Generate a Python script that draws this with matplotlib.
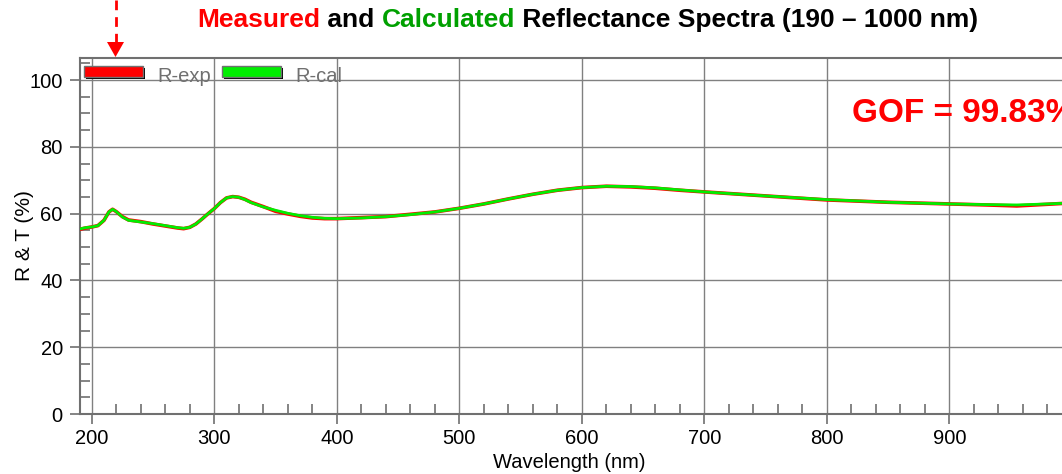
import numpy as np
import matplotlib.pyplot as plt
from matplotlib.patches import Rectangle, Polygon
from matplotlib.lines import Line2D
from matplotlib.ticker import MultipleLocator, FuncFormatter

plt.rcParams['font.family'] = ['Liberation Sans', 'DejaVu Sans']

# wavelength (nm) and reflectance (%)
wavelength = [190, 195, 200, 205, 210, 214, 217, 220, 225, 230, 240, 250, 260, 270,
              275, 280, 285, 290, 295, 300, 305, 310, 315, 320, 325, 330, 340, 350,
              360, 370, 380, 390, 400, 420, 440, 460, 480, 500, 520, 540, 560, 580,
              600, 620, 640, 660, 680, 700, 750, 800, 850, 900, 930, 955, 980, 1000]
r_cal = [55.4, 55.8, 56.0, 56.4, 58.0, 60.5, 61.3, 60.6, 59.0, 58.0, 57.5, 57.0, 56.4, 55.8,
         55.6, 55.9, 56.9, 58.4, 60.0, 61.5, 63.3, 64.7, 65.1, 64.9, 64.2, 63.3, 62.0, 61.0,
         60.1, 59.4, 58.9, 58.6, 58.5, 58.7, 59.1, 59.7, 60.5, 61.6, 62.9, 64.4, 65.8, 67.0,
         67.8, 68.2, 68.1, 67.7, 67.1, 66.5, 65.3, 64.2, 63.4, 62.9, 62.7, 62.6, 62.9, 63.2]
r_exp = [55.3, 55.7, 56.0, 56.4, 58.0, 60.5, 61.3, 60.6, 59.1, 58.1, 57.6, 56.9, 56.3, 55.7,
         55.5, 55.9, 56.9, 58.4, 60.0, 61.5, 63.3, 64.7, 65.1, 64.9, 64.3, 63.4, 62.1, 60.7,
         59.9, 59.2, 58.7, 58.5, 58.5, 58.8, 59.1, 59.8, 60.5, 61.6, 62.9, 64.4, 65.8, 67.0,
         67.8, 68.2, 68.0, 67.6, 67.0, 66.5, 65.3, 64.1, 63.4, 62.9, 62.6, 62.3, 62.8, 63.2]

W, H = 1062, 474
fig = plt.figure(figsize=(W / 100, H / 100), dpi=100)

def fx(px):
    return px / W

def fy(py):
    return 1 - py / H

# axes: x 190..1000 runs past the right edge of the picture
ax = fig.add_axes([fx(79.5), fy(414), fx(1072) - fx(79.5), fy(58) - fy(414)])
ax.set_xlim(190, 1000)
ax.set_ylim(0, 106.6)

gray = '#707070'
ax.plot(wavelength, r_exp, color='#ff0000', lw=2.6, zorder=3)
ax.plot(wavelength, r_cal, color='#00ee00', lw=2.0, zorder=4)

ax.xaxis.set_major_locator(MultipleLocator(100))
ax.xaxis.set_minor_locator(MultipleLocator(20))
ax.yaxis.set_major_locator(MultipleLocator(20))
ax.yaxis.set_minor_locator(MultipleLocator(5))
# the 1000 label falls outside the picture in the original
ax.xaxis.set_major_formatter(FuncFormatter(lambda v, p: '' if v >= 1000 else '%d' % v))
ax.grid(True, which='major', color='#808080', lw=1.0)
ax.set_axisbelow(True)
ax.tick_params(which='major', direction='out', length=7, width=1.2, color=gray,
               labelsize=14.5, pad=4)
ax.tick_params(axis='y', which='major', pad=5)
ax.tick_params(which='minor', direction='in', length=7.5, width=1.2, color=gray)
for s in ax.spines.values():
    s.set_color(gray)
    s.set_linewidth(1.5)

fig.text(fx(569.5), fy(462), 'Wavelength (nm)', fontsize=14.5, ha='center', va='center')
fig.text(fx(25), fy(236), 'R & T (%)', fontsize=15, ha='center', va='center', rotation=90)

# GOF annotation
fig.text(fx(852), fy(121.5), 'GOF = 99.83%', fontsize=24, fontweight='bold',
         color='#ff0000', ha='left', va='baseline')

# multi-coloured title
parts = [('Measured', '#ff0000'), (' and ', 'black'), ('Calculated', '#00a000'),
         (' Reflectance Spectra (190 \u2013 1000 nm)', 'black')]
fig.canvas.draw()
r = fig.canvas.get_renderer()
texts = []
for s, c in parts:
    t = fig.text(0, fy(20), s, fontsize=19, fontweight='bold', color=c,
                 ha='left', va='center')
    texts.append(t)
widths = [t.get_window_extent(r).width for t in texts]
x0 = 588 - sum(widths) / 2
for t, w in zip(texts, widths):
    t.set_x(fx(x0))
    x0 += w

# legend drawn as boxes with shadow
def legend_box(x1, x2, color):
    fig.add_artist(Rectangle((fx(x1 + 2), fy(79)), fx(x2 - x1), fy(68) - fy(79),
                             transform=fig.transFigure, facecolor='black', edgecolor='none'))
    fig.add_artist(Rectangle((fx(x1), fy(77)), fx(x2 - x1), fy(66) - fy(77),
                             transform=fig.transFigure, facecolor=color, edgecolor=gray, lw=1))

legend_box(84, 143, '#ff0000')
legend_box(222, 281, '#00ee00')
fig.text(fx(157), fy(81.5), 'R-exp', fontsize=14.5, color=gray, va='baseline')
fig.text(fx(295), fy(81.5), 'R-cal', fontsize=14.5, color=gray, va='baseline')

# dashed red arrow pointing at the 218 nm peak
fig.add_artist(Line2D([fx(115.5), fx(115.5)], [fy(0), fy(43)], transform=fig.transFigure,
                      color='#ff0000', lw=2, dashes=(3.5, 2.5)))
fig.add_artist(Polygon([[fx(107), fy(42)], [fx(124), fy(42)], [fx(115.5), fy(57)]],
                       closed=True, transform=fig.transFigure, facecolor='#ff0000',
                       edgecolor='none'))

plt.savefig('out.png', dpi=100)
